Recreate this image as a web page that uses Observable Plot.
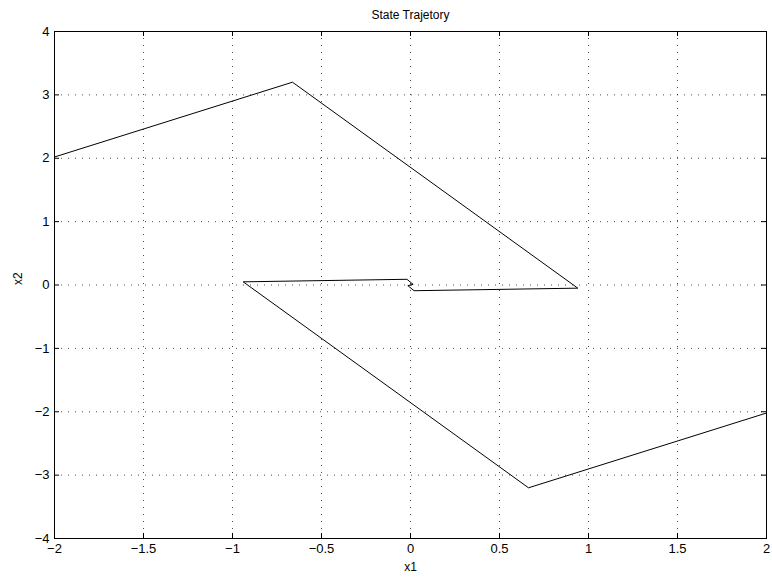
<!DOCTYPE html>
<html>
<head>
<meta charset="utf-8">
<script src="https://cdn.jsdelivr.net/npm/d3@7"></script>
<script src="https://cdn.jsdelivr.net/npm/@observablehq/plot@0.6"></script>
<style>
  html, body { margin: 0; padding: 0; background: #fff; }
  svg { font-family: "Liberation Sans", Arial, sans-serif; }
</style>
</head>
<body>
<div id="chart"></div>
<script>
// Trajectory starting at (-2, 2)
const trajA_x1 = [-2.0, -0.663, 0.94, 0.02, -0.015, 0.0];
const trajA_x2 = [2.02, 3.2, -0.05, -0.09, -0.01, 0.0];
// Trajectory starting at (2, -2)
const trajB_x1 = [2.0, 0.663, -0.94, -0.02, 0.015, 0.0];
const trajB_x2 = [-2.02, -3.2, 0.05, 0.09, 0.01, 0.0];

const xTicks = [-2, -1.5, -1, -0.5, 0, 0.5, 1, 1.5, 2];
const yTicks = [-4, -3, -2, -1, 0, 1, 2, 3, 4];
const titleText = "State Trajetory";
const xLabel = "x1";
const yLabel = "x2";

const data = [
  ...trajA_x1.map((x, i) => ({x1: x, x2: trajA_x2[i], run: "A"})),
  ...trajB_x1.map((x, i) => ({x1: x, x2: trajB_x2[i], run: "B"}))
];

const W = 772, H = 578;
const mT = 31, mB = 40, mL = 54, mR = 6;
const innerH = H - mT - mB;
const innerW = W - mL - mR;
const tk = 5;

const fmt = d => String(d).replace("-", "\u2212");

const chart = Plot.plot({
  width: W,
  height: H,
  marginTop: mT,
  marginBottom: mB,
  marginLeft: mL,
  marginRight: mR,
  style: {fontFamily: "'Liberation Sans', Arial, sans-serif", fontSize: "12px", background: "#fff", color: "#000"},
  x: {domain: [-2, 2], axis: null},
  y: {domain: [-4, 4], axis: null},
  marks: [
    // dotted grid
    Plot.ruleX(xTicks.slice(1, -1), {x: d => d, stroke: "#000", strokeOpacity: 0.7, strokeWidth: 1, strokeDasharray: "1,6"}),
    Plot.ruleY(yTicks.slice(1, -1), {y: d => d, stroke: "#000", strokeOpacity: 0.7, strokeWidth: 1, strokeDasharray: "1,6"}),
    // inward ticks, bottom / top
    Plot.ruleX(xTicks, {x: d => d, insetTop: innerH - tk, stroke: "#000"}),
    Plot.ruleX(xTicks, {x: d => d, insetBottom: innerH - tk, stroke: "#000"}),
    // inward ticks, left / right
    Plot.ruleY(yTicks, {y: d => d, insetRight: innerW - tk, stroke: "#000"}),
    Plot.ruleY(yTicks, {y: d => d, insetLeft: innerW - tk, stroke: "#000"}),
    // tick labels
    Plot.text(xTicks, {x: d => d, text: fmt, frameAnchor: "bottom", dy: 14, fontSize: 13, fill: "#000"}),
    Plot.text(yTicks, {y: d => d, text: fmt, frameAnchor: "left", textAnchor: "end", dx: -5, fontSize: 13, fill: "#000"}),
    // trajectory
    Plot.line(data, {x: "x1", y: "x2", z: "run", stroke: "#000", strokeWidth: 1}),
    // box
    Plot.frame({stroke: "#000", strokeWidth: 1}),
    // title and axis labels
    Plot.text([titleText], {text: d => d, frameAnchor: "top", dy: -21, fontSize: 12, fill: "#000"}),
    Plot.text([xLabel], {text: d => d, frameAnchor: "bottom", dy: 32, fontSize: 12, fill: "#000"}),
    Plot.text([yLabel], {text: d => d, frameAnchor: "left", dx: -36, rotate: -90, fontSize: 12, fill: "#000"})
  ]
});
document.getElementById("chart").appendChild(chart);
</script>
</body>
</html>
